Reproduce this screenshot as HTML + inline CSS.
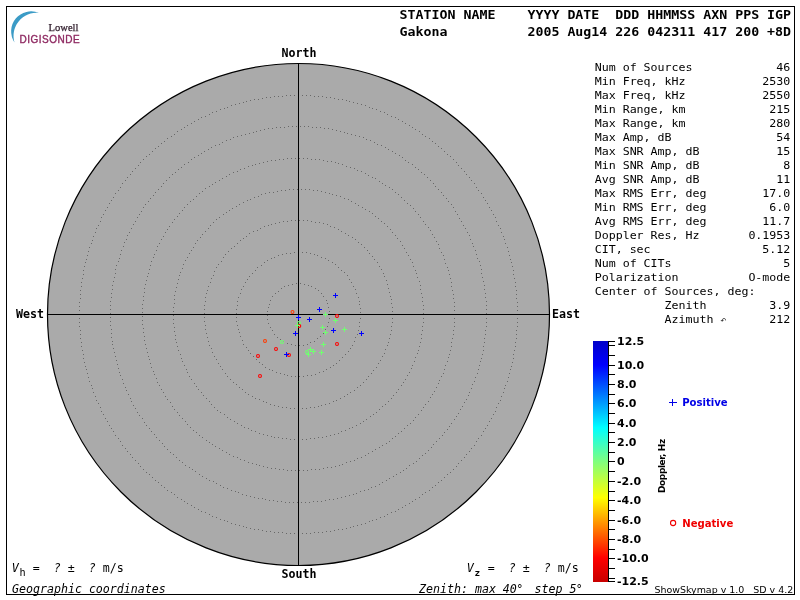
<!DOCTYPE html>
<html lang="en"><head><meta charset="utf-8"><title>Digisonde Skymap - Gakona</title>
<style>
html,body{margin:0;padding:0;background:#fff;}
body{width:800px;height:600px;overflow:hidden;}
svg{display:block;}
text{white-space:pre;}
.m{font-family:"DejaVu Sans Mono","Liberation Mono",monospace;font-size:11.627px;fill:#000;}
.mi{font-family:"DejaVu Sans Mono","Liberation Mono",monospace;font-size:11.627px;font-style:italic;fill:#000;}
.h{font-family:"DejaVu Sans Mono","Liberation Mono",monospace;font-size:13.288px;font-weight:bold;fill:#000;}
.d{font-family:"DejaVu Sans Mono","Liberation Mono",monospace;font-size:11.627px;font-weight:bold;fill:#000;}
.cb{font-family:"DejaVu Sans","Liberation Sans",sans-serif;font-size:11px;font-weight:bold;fill:#000;}
.lg{font-family:"DejaVu Sans","Liberation Sans",sans-serif;font-size:10.1px;font-weight:bold;}
.arr{font-family:"DejaVu Sans","Liberation Sans",sans-serif;font-size:7px;fill:#000;}
.ver{font-family:"DejaVu Sans","Liberation Sans",sans-serif;font-size:9.46px;fill:#000;}
.dop{font-family:"DejaVu Sans","Liberation Sans",sans-serif;font-size:9px;font-weight:bold;letter-spacing:-0.4px;fill:#000;}
.lw{font-family:"Liberation Serif",serif;font-size:10.6px;fill:#33202f;stroke:#33202f;stroke-width:0.25px;}
.dg{font-family:"Liberation Sans",sans-serif;font-size:10px;letter-spacing:0.5px;fill:#8f2a62;stroke:#8f2a62;stroke-width:0.35px;}
</style></head><body>
<svg width="800" height="600" viewBox="0 0 800 600">
<rect x="0" y="0" width="800" height="600" fill="#fff"/>
<circle cx="298.5" cy="314.5" r="251.0" fill="#aaaaaa" stroke="#000" stroke-width="1.2"/>
<path d="M329,314.5h1M329,318.5h1M328,322.5h1M327,326.5h1M325,329.5h1M323,333.5h1M320,336.5h1M317,338.5h1M314,341.5h1M310,342.5h1M307,344.5h1M303,345.5h1M299,345.5h1M295,345.5h1M291,344.5h1M287,343.5h1M283,341.5h1M280,339.5h1M277,337.5h1M274,334.5h1M272,330.5h1M270,327.5h1M268,323.5h1M267,319.5h1M267,315.5h1M267,311.5h1M268,307.5h1M269,304.5h1M270,300.5h1M272,296.5h1M275,293.5h1M278,291.5h1M281,288.5h1M284,286.5h1M288,285.5h1M292,284.5h1M296,283.5h1M300,283.5h1M304,284.5h1M308,285.5h1M311,286.5h1M315,288.5h1M318,290.5h1M321,293.5h1M323,296.5h1M326,300.5h1M327,303.5h1M328,307.5h1M329,311.5h1M360,314.5h1M360,318.5h1M359,322.5h1M359,326.5h1M358,330.5h1M357,334.5h1M355,337.5h1M354,341.5h1M352,345.5h1M350,348.5h1M348,351.5h1M345,354.5h1M342,357.5h1M339,360.5h1M336,363.5h1M333,365.5h1M330,367.5h1M326,369.5h1M323,371.5h1M319,372.5h1M315,374.5h1M311,375.5h1M307,375.5h1M303,376.5h1M299,376.5h1M295,376.5h1M291,376.5h1M287,375.5h1M284,374.5h1M280,373.5h1M276,372.5h1M272,370.5h1M269,369.5h1M265,367.5h1M262,364.5h1M259,362.5h1M256,359.5h1M253,356.5h1M250,353.5h1M248,350.5h1M246,347.5h1M243,344.5h1M242,340.5h1M240,336.5h1M239,332.5h1M238,329.5h1M237,325.5h1M236,321.5h1M236,317.5h1M236,313.5h1M236,309.5h1M237,305.5h1M237,301.5h1M238,297.5h1M240,293.5h1M241,289.5h1M243,286.5h1M245,282.5h1M247,279.5h1M249,276.5h1M252,273.5h1M255,270.5h1M257,267.5h1M261,265.5h1M264,262.5h1M267,260.5h1M271,258.5h1M274,257.5h1M278,255.5h1M282,254.5h1M286,253.5h1M290,253.5h1M294,252.5h1M298,252.5h1M302,252.5h1M306,252.5h1M310,253.5h1M314,254.5h1M317,255.5h1M321,257.5h1M325,258.5h1M328,260.5h1M332,262.5h1M335,264.5h1M338,267.5h1M341,270.5h1M344,272.5h1M347,275.5h1M349,279.5h1M351,282.5h1M353,286.5h1M355,289.5h1M356,293.5h1M358,297.5h1M359,301.5h1M359,304.5h1M360,308.5h1M360,312.5h1M392,314.5h1M392,318.5h1M392,322.5h1M391,326.5h1M391,330.5h1M390,334.5h1M389,338.5h1M388,342.5h1M387,345.5h1M385,349.5h1M384,353.5h1M382,356.5h1M380,360.5h1M378,363.5h1M376,367.5h1M373,370.5h1M371,373.5h1M368,376.5h1M366,379.5h1M363,382.5h1M360,385.5h1M357,387.5h1M354,390.5h1M350,392.5h1M347,394.5h1M344,396.5h1M340,398.5h1M336,400.5h1M333,401.5h1M329,403.5h1M325,404.5h1M321,405.5h1M318,406.5h1M314,407.5h1M310,407.5h1M306,408.5h1M302,408.5h1M298,408.5h1M294,408.5h1M290,408.5h1M286,407.5h1M282,407.5h1M278,406.5h1M274,405.5h1M270,404.5h1M266,402.5h1M263,401.5h1M259,399.5h1M255,398.5h1M252,396.5h1M248,394.5h1M245,392.5h1M242,389.5h1M239,387.5h1M236,384.5h1M233,382.5h1M230,379.5h1M227,376.5h1M225,373.5h1M222,369.5h1M220,366.5h1M218,363.5h1M216,359.5h1M214,356.5h1M212,352.5h1M211,348.5h1M209,345.5h1M208,341.5h1M207,337.5h1M206,333.5h1M205,329.5h1M205,325.5h1M204,321.5h1M204,317.5h1M204,313.5h1M204,309.5h1M204,305.5h1M205,301.5h1M205,297.5h1M206,293.5h1M207,290.5h1M208,286.5h1M210,282.5h1M211,278.5h1M213,275.5h1M214,271.5h1M216,267.5h1M218,264.5h1M221,261.5h1M223,257.5h1M225,254.5h1M228,251.5h1M231,248.5h1M234,246.5h1M237,243.5h1M240,240.5h1M243,238.5h1M246,236.5h1M249,233.5h1M253,231.5h1M257,230.5h1M260,228.5h1M264,226.5h1M268,225.5h1M271,224.5h1M275,223.5h1M279,222.5h1M283,221.5h1M287,221.5h1M291,220.5h1M295,220.5h1M299,220.5h1M303,220.5h1M307,220.5h1M311,221.5h1M315,222.5h1M319,222.5h1M323,223.5h1M327,224.5h1M330,226.5h1M334,227.5h1M338,229.5h1M341,231.5h1M345,233.5h1M348,235.5h1M352,237.5h1M355,239.5h1M358,242.5h1M361,244.5h1M364,247.5h1M367,250.5h1M369,253.5h1M372,256.5h1M374,259.5h1M377,262.5h1M379,266.5h1M381,269.5h1M383,273.5h1M384,276.5h1M386,280.5h1M387,284.5h1M388,288.5h1M389,292.5h1M390,296.5h1M391,299.5h1M391,303.5h1M392,307.5h1M392,311.5h1M423,314.5h1M423,318.5h1M423,322.5h1M422,326.5h1M422,330.5h1M421,334.5h1M421,338.5h1M420,342.5h1M419,346.5h1M418,350.5h1M417,353.5h1M415,357.5h1M414,361.5h1M412,365.5h1M411,368.5h1M409,372.5h1M407,375.5h1M405,379.5h1M403,382.5h1M401,385.5h1M398,389.5h1M396,392.5h1M393,395.5h1M391,398.5h1M388,401.5h1M385,404.5h1M382,406.5h1M379,409.5h1M376,412.5h1M373,414.5h1M370,416.5h1M366,419.5h1M363,421.5h1M360,423.5h1M356,425.5h1M352,427.5h1M349,428.5h1M345,430.5h1M341,431.5h1M338,433.5h1M334,434.5h1M330,435.5h1M326,436.5h1M322,437.5h1M318,437.5h1M314,438.5h1M310,438.5h1M306,439.5h1M302,439.5h1M298,439.5h1M294,439.5h1M290,439.5h1M286,438.5h1M282,438.5h1M278,437.5h1M274,437.5h1M271,436.5h1M267,435.5h1M263,434.5h1M259,433.5h1M255,431.5h1M251,430.5h1M248,428.5h1M244,427.5h1M241,425.5h1M237,423.5h1M234,421.5h1M230,419.5h1M227,417.5h1M224,414.5h1M220,412.5h1M217,410.5h1M214,407.5h1M211,404.5h1M209,401.5h1M206,398.5h1M203,395.5h1M201,392.5h1M198,389.5h1M196,386.5h1M194,383.5h1M191,379.5h1M189,376.5h1M187,372.5h1M186,369.5h1M184,365.5h1M182,361.5h1M181,358.5h1M180,354.5h1M178,350.5h1M177,346.5h1M176,342.5h1M175,339.5h1M175,335.5h1M174,331.5h1M174,327.5h1M173,323.5h1M173,319.5h1M173,315.5h1M173,311.5h1M173,307.5h1M174,303.5h1M174,299.5h1M174,295.5h1M175,291.5h1M176,287.5h1M177,283.5h1M178,279.5h1M179,275.5h1M180,272.5h1M182,268.5h1M183,264.5h1M185,260.5h1M187,257.5h1M189,253.5h1M191,250.5h1M193,247.5h1M195,243.5h1M197,240.5h1M200,237.5h1M202,234.5h1M205,231.5h1M208,228.5h1M210,225.5h1M213,222.5h1M216,219.5h1M219,217.5h1M223,214.5h1M226,212.5h1M229,210.5h1M232,208.5h1M236,206.5h1M239,204.5h1M243,202.5h1M247,200.5h1M250,199.5h1M254,197.5h1M258,196.5h1M261,194.5h1M265,193.5h1M269,192.5h1M273,192.5h1M277,191.5h1M281,190.5h1M285,190.5h1M289,189.5h1M293,189.5h1M297,189.5h1M301,189.5h1M305,189.5h1M309,189.5h1M313,190.5h1M317,190.5h1M321,191.5h1M325,192.5h1M329,193.5h1M332,194.5h1M336,195.5h1M340,196.5h1M344,198.5h1M348,199.5h1M351,201.5h1M355,203.5h1M358,205.5h1M362,207.5h1M365,209.5h1M369,211.5h1M372,213.5h1M375,216.5h1M378,218.5h1M381,221.5h1M384,223.5h1M387,226.5h1M390,229.5h1M392,232.5h1M395,235.5h1M397,238.5h1M400,241.5h1M402,245.5h1M404,248.5h1M406,252.5h1M408,255.5h1M410,259.5h1M412,262.5h1M413,266.5h1M415,270.5h1M416,273.5h1M417,277.5h1M419,281.5h1M420,285.5h1M420,289.5h1M421,293.5h1M422,297.5h1M422,301.5h1M423,305.5h1M423,309.5h1M423,313.5h1M454,314.5h1M454,318.5h1M454,322.5h1M454,326.5h1M453,330.5h1M453,334.5h1M452,338.5h1M451,342.5h1M451,346.5h1M450,350.5h1M449,354.5h1M448,357.5h1M447,361.5h1M445,365.5h1M444,369.5h1M443,373.5h1M441,376.5h1M439,380.5h1M438,383.5h1M436,387.5h1M434,391.5h1M432,394.5h1M430,397.5h1M428,401.5h1M425,404.5h1M423,407.5h1M421,410.5h1M418,414.5h1M415,417.5h1M413,420.5h1M410,423.5h1M407,425.5h1M404,428.5h1M401,431.5h1M398,433.5h1M395,436.5h1M392,438.5h1M389,441.5h1M386,443.5h1M382,445.5h1M379,447.5h1M375,449.5h1M372,451.5h1M368,453.5h1M365,455.5h1M361,457.5h1M357,458.5h1M354,460.5h1M350,461.5h1M346,462.5h1M342,464.5h1M339,465.5h1M335,466.5h1M331,467.5h1M327,467.5h1M323,468.5h1M319,469.5h1M315,469.5h1M311,469.5h1M307,470.5h1M303,470.5h1M299,470.5h1M295,470.5h1M291,470.5h1M287,470.5h1M283,469.5h1M279,469.5h1M275,468.5h1M271,468.5h1M267,467.5h1M263,466.5h1M259,465.5h1M256,464.5h1M252,463.5h1M248,462.5h1M244,460.5h1M240,459.5h1M237,457.5h1M233,456.5h1M229,454.5h1M226,452.5h1M222,450.5h1M219,448.5h1M215,446.5h1M212,444.5h1M209,442.5h1M206,440.5h1M202,437.5h1M199,435.5h1M196,432.5h1M193,430.5h1M190,427.5h1M187,424.5h1M185,421.5h1M182,418.5h1M179,415.5h1M177,412.5h1M174,409.5h1M172,406.5h1M170,402.5h1M167,399.5h1M165,396.5h1M163,392.5h1M161,389.5h1M159,385.5h1M157,382.5h1M156,378.5h1M154,374.5h1M153,371.5h1M151,367.5h1M150,363.5h1M149,359.5h1M148,356.5h1M147,352.5h1M146,348.5h1M145,344.5h1M144,340.5h1M144,336.5h1M143,332.5h1M143,328.5h1M142,324.5h1M142,320.5h1M142,316.5h1M142,312.5h1M142,308.5h1M142,304.5h1M143,300.5h1M143,296.5h1M144,292.5h1M144,288.5h1M145,284.5h1M146,280.5h1M147,276.5h1M148,273.5h1M149,269.5h1M150,265.5h1M151,261.5h1M153,257.5h1M154,254.5h1M156,250.5h1M157,246.5h1M159,243.5h1M161,239.5h1M163,236.5h1M165,232.5h1M167,229.5h1M169,226.5h1M172,222.5h1M174,219.5h1M177,216.5h1M179,213.5h1M182,210.5h1M184,207.5h1M187,204.5h1M190,201.5h1M193,199.5h1M196,196.5h1M199,193.5h1M202,191.5h1M205,188.5h1M209,186.5h1M212,184.5h1M215,182.5h1M219,180.5h1M222,178.5h1M226,176.5h1M229,174.5h1M233,172.5h1M237,171.5h1M240,169.5h1M244,168.5h1M248,166.5h1M252,165.5h1M255,164.5h1M259,163.5h1M263,162.5h1M267,161.5h1M271,160.5h1M275,160.5h1M279,159.5h1M283,159.5h1M287,158.5h1M291,158.5h1M295,158.5h1M299,158.5h1M303,158.5h1M307,158.5h1M311,159.5h1M315,159.5h1M319,159.5h1M323,160.5h1M327,161.5h1M331,161.5h1M335,162.5h1M338,163.5h1M342,164.5h1M346,166.5h1M350,167.5h1M354,168.5h1M357,170.5h1M361,171.5h1M365,173.5h1M368,175.5h1M372,177.5h1M375,178.5h1M379,181.5h1M382,183.5h1M385,185.5h1M389,187.5h1M392,189.5h1M395,192.5h1M398,194.5h1M401,197.5h1M404,200.5h1M407,203.5h1M410,205.5h1M413,208.5h1M415,211.5h1M418,214.5h1M420,217.5h1M423,221.5h1M425,224.5h1M428,227.5h1M430,230.5h1M432,234.5h1M434,237.5h1M436,241.5h1M438,244.5h1M439,248.5h1M441,252.5h1M443,255.5h1M444,259.5h1M445,263.5h1M447,267.5h1M448,270.5h1M449,274.5h1M450,278.5h1M451,282.5h1M451,286.5h1M452,290.5h1M453,294.5h1M453,298.5h1M454,302.5h1M454,306.5h1M454,310.5h1M486,314.5h1M486,318.5h1M486,322.5h1M486,326.5h1M485,330.5h1M485,334.5h1M484,338.5h1M484,342.5h1M483,346.5h1M483,350.5h1M482,354.5h1M481,358.5h1M480,361.5h1M479,365.5h1M478,369.5h1M477,373.5h1M475,377.5h1M474,381.5h1M472,384.5h1M471,388.5h1M469,392.5h1M468,395.5h1M466,399.5h1M464,402.5h1M462,406.5h1M460,409.5h1M458,413.5h1M456,416.5h1M454,419.5h1M451,423.5h1M449,426.5h1M447,429.5h1M444,432.5h1M442,435.5h1M439,438.5h1M436,441.5h1M433,444.5h1M431,447.5h1M428,450.5h1M425,453.5h1M422,455.5h1M419,458.5h1M416,461.5h1M413,463.5h1M409,465.5h1M406,468.5h1M403,470.5h1M400,472.5h1M396,474.5h1M393,476.5h1M389,478.5h1M386,480.5h1M382,482.5h1M379,484.5h1M375,486.5h1M371,487.5h1M368,489.5h1M364,490.5h1M360,491.5h1M356,493.5h1M353,494.5h1M349,495.5h1M345,496.5h1M341,497.5h1M337,498.5h1M333,499.5h1M329,499.5h1M325,500.5h1M321,501.5h1M317,501.5h1M313,501.5h1M309,502.5h1M305,502.5h1M301,502.5h1M297,502.5h1M293,502.5h1M289,502.5h1M285,502.5h1M281,501.5h1M277,501.5h1M273,500.5h1M269,500.5h1M265,499.5h1M262,498.5h1M258,498.5h1M254,497.5h1M250,496.5h1M246,495.5h1M242,494.5h1M238,492.5h1M235,491.5h1M231,490.5h1M227,488.5h1M223,487.5h1M220,485.5h1M216,483.5h1M213,481.5h1M209,480.5h1M206,478.5h1M202,476.5h1M199,474.5h1M195,471.5h1M192,469.5h1M189,467.5h1M185,465.5h1M182,462.5h1M179,460.5h1M176,457.5h1M173,454.5h1M170,452.5h1M167,449.5h1M164,446.5h1M162,443.5h1M159,440.5h1M156,437.5h1M154,434.5h1M151,431.5h1M149,428.5h1M146,425.5h1M144,422.5h1M142,418.5h1M139,415.5h1M137,412.5h1M135,408.5h1M133,405.5h1M131,401.5h1M130,398.5h1M128,394.5h1M126,390.5h1M125,387.5h1M123,383.5h1M122,379.5h1M120,375.5h1M119,372.5h1M118,368.5h1M117,364.5h1M116,360.5h1M115,356.5h1M114,352.5h1M113,348.5h1M112,344.5h1M112,341.5h1M111,337.5h1M111,333.5h1M111,329.5h1M110,325.5h1M110,321.5h1M110,317.5h1M110,313.5h1M110,309.5h1M110,305.5h1M110,301.5h1M111,297.5h1M111,293.5h1M112,289.5h1M112,285.5h1M113,281.5h1M114,277.5h1M115,273.5h1M115,269.5h1M116,265.5h1M118,261.5h1M119,258.5h1M120,254.5h1M121,250.5h1M123,246.5h1M124,242.5h1M126,239.5h1M127,235.5h1M129,232.5h1M131,228.5h1M133,224.5h1M135,221.5h1M137,217.5h1M139,214.5h1M141,211.5h1M143,207.5h1M145,204.5h1M148,201.5h1M150,198.5h1M153,195.5h1M155,192.5h1M158,189.5h1M161,186.5h1M163,183.5h1M166,180.5h1M169,177.5h1M172,174.5h1M175,172.5h1M178,169.5h1M181,167.5h1M184,164.5h1M188,162.5h1M191,159.5h1M194,157.5h1M198,155.5h1M201,153.5h1M204,151.5h1M208,149.5h1M211,147.5h1M215,145.5h1M219,144.5h1M222,142.5h1M226,140.5h1M230,139.5h1M233,137.5h1M237,136.5h1M241,135.5h1M245,134.5h1M249,133.5h1M253,132.5h1M256,131.5h1M260,130.5h1M264,129.5h1M268,128.5h1M272,128.5h1M276,127.5h1M280,127.5h1M284,127.5h1M288,126.5h1M292,126.5h1M296,126.5h1M300,126.5h1M304,126.5h1M308,126.5h1M312,127.5h1M316,127.5h1M320,127.5h1M324,128.5h1M328,128.5h1M332,129.5h1M336,130.5h1M340,131.5h1M344,132.5h1M347,133.5h1M351,134.5h1M355,135.5h1M359,136.5h1M363,137.5h1M366,139.5h1M370,140.5h1M374,142.5h1M377,144.5h1M381,145.5h1M385,147.5h1M388,149.5h1M392,151.5h1M395,153.5h1M399,155.5h1M402,157.5h1M405,160.5h1M408,162.5h1M412,164.5h1M415,167.5h1M418,169.5h1M421,172.5h1M424,174.5h1M427,177.5h1M430,180.5h1M433,183.5h1M435,186.5h1M438,189.5h1M441,192.5h1M443,195.5h1M446,198.5h1M448,201.5h1M451,204.5h1M453,207.5h1M455,211.5h1M457,214.5h1M459,218.5h1M461,221.5h1M463,225.5h1M465,228.5h1M467,232.5h1M469,235.5h1M470,239.5h1M472,243.5h1M473,246.5h1M475,250.5h1M476,254.5h1M477,258.5h1M479,261.5h1M480,265.5h1M481,269.5h1M481,273.5h1M482,277.5h1M483,281.5h1M484,285.5h1M484,289.5h1M485,293.5h1M485,297.5h1M486,301.5h1M486,305.5h1M486,309.5h1M486,313.5h1M517,314.5h1M517,318.5h1M517,322.5h1M517,326.5h1M516,330.5h1M516,334.5h1M516,338.5h1M515,342.5h1M515,346.5h1M514,350.5h1M513,354.5h1M513,358.5h1M512,362.5h1M511,366.5h1M510,369.5h1M509,373.5h1M508,377.5h1M507,381.5h1M505,385.5h1M504,388.5h1M503,392.5h1M501,396.5h1M500,400.5h1M498,403.5h1M496,407.5h1M495,411.5h1M493,414.5h1M491,418.5h1M489,421.5h1M487,425.5h1M485,428.5h1M483,431.5h1M481,435.5h1M478,438.5h1M476,441.5h1M474,445.5h1M471,448.5h1M469,451.5h1M466,454.5h1M464,457.5h1M461,460.5h1M458,463.5h1M456,466.5h1M453,469.5h1M450,472.5h1M447,474.5h1M444,477.5h1M441,480.5h1M438,482.5h1M435,485.5h1M432,487.5h1M429,490.5h1M425,492.5h1M422,494.5h1M419,497.5h1M415,499.5h1M412,501.5h1M409,503.5h1M405,505.5h1M402,507.5h1M398,509.5h1M395,511.5h1M391,512.5h1M387,514.5h1M384,516.5h1M380,517.5h1M376,519.5h1M372,520.5h1M369,521.5h1M365,523.5h1M361,524.5h1M357,525.5h1M353,526.5h1M350,527.5h1M346,528.5h1M342,529.5h1M338,529.5h1M334,530.5h1M330,531.5h1M326,531.5h1M322,532.5h1M318,532.5h1M314,532.5h1M310,533.5h1M306,533.5h1M302,533.5h1M298,533.5h1M294,533.5h1M290,533.5h1M286,533.5h1M282,532.5h1M278,532.5h1M274,532.5h1M270,531.5h1M266,531.5h1M262,530.5h1M258,529.5h1M254,529.5h1M250,528.5h1M246,527.5h1M243,526.5h1M239,525.5h1M235,524.5h1M231,523.5h1M227,521.5h1M224,520.5h1M220,519.5h1M216,517.5h1M212,516.5h1M209,514.5h1M205,512.5h1M201,511.5h1M198,509.5h1M194,507.5h1M191,505.5h1M187,503.5h1M184,501.5h1M181,499.5h1M177,497.5h1M174,494.5h1M171,492.5h1M167,490.5h1M164,487.5h1M161,485.5h1M158,482.5h1M155,480.5h1M152,477.5h1M149,474.5h1M146,472.5h1M143,469.5h1M140,466.5h1M138,463.5h1M135,460.5h1M132,457.5h1M130,454.5h1M127,451.5h1M125,448.5h1M122,445.5h1M120,441.5h1M118,438.5h1M115,435.5h1M113,431.5h1M111,428.5h1M109,425.5h1M107,421.5h1M105,418.5h1M103,414.5h1M101,411.5h1M100,407.5h1M98,403.5h1M96,400.5h1M95,396.5h1M93,392.5h1M92,388.5h1M91,385.5h1M89,381.5h1M88,377.5h1M87,373.5h1M86,369.5h1M85,366.5h1M84,362.5h1M83,358.5h1M83,354.5h1M82,350.5h1M81,346.5h1M81,342.5h1M80,338.5h1M80,334.5h1M80,330.5h1M79,326.5h1M79,322.5h1M79,318.5h1M79,314.5h1M79,310.5h1M79,306.5h1M79,302.5h1M80,298.5h1M80,294.5h1M80,290.5h1M81,286.5h1M81,282.5h1M82,278.5h1M83,274.5h1M83,270.5h1M84,266.5h1M85,262.5h1M86,259.5h1M87,255.5h1M88,251.5h1M89,247.5h1M91,243.5h1M92,240.5h1M93,236.5h1M95,232.5h1M96,228.5h1M98,225.5h1M100,221.5h1M101,217.5h1M103,214.5h1M105,210.5h1M107,207.5h1M109,203.5h1M111,200.5h1M113,197.5h1M115,193.5h1M118,190.5h1M120,187.5h1M122,183.5h1M125,180.5h1M127,177.5h1M130,174.5h1M132,171.5h1M135,168.5h1M138,165.5h1M140,162.5h1M143,159.5h1M146,156.5h1M149,154.5h1M152,151.5h1M155,148.5h1M158,146.5h1M161,143.5h1M164,141.5h1M167,138.5h1M171,136.5h1M174,134.5h1M177,131.5h1M181,129.5h1M184,127.5h1M187,125.5h1M191,123.5h1M194,121.5h1M198,119.5h1M201,117.5h1M205,116.5h1M209,114.5h1M212,112.5h1M216,111.5h1M220,109.5h1M224,108.5h1M227,107.5h1M231,105.5h1M235,104.5h1M239,103.5h1M243,102.5h1M246,101.5h1M250,100.5h1M254,99.5h1M258,99.5h1M262,98.5h1M266,97.5h1M270,97.5h1M274,96.5h1M278,96.5h1M282,96.5h1M286,95.5h1M290,95.5h1M294,95.5h1M298,95.5h1M302,95.5h1M306,95.5h1M310,95.5h1M314,96.5h1M318,96.5h1M322,96.5h1M326,97.5h1M330,97.5h1M334,98.5h1M338,99.5h1M342,99.5h1M346,100.5h1M349,101.5h1M353,102.5h1M357,103.5h1M361,104.5h1M365,105.5h1M369,107.5h1M372,108.5h1M376,109.5h1M380,111.5h1M384,112.5h1M387,114.5h1M391,116.5h1M395,117.5h1M398,119.5h1M402,121.5h1M405,123.5h1M409,125.5h1M412,127.5h1M415,129.5h1M419,131.5h1M422,134.5h1M425,136.5h1M429,138.5h1M432,141.5h1M435,143.5h1M438,146.5h1M441,148.5h1M444,151.5h1M447,154.5h1M450,156.5h1M453,159.5h1M456,162.5h1M458,165.5h1M461,168.5h1M464,171.5h1M466,174.5h1M469,177.5h1M471,180.5h1M474,183.5h1M476,187.5h1M478,190.5h1M481,193.5h1M483,197.5h1M485,200.5h1M487,203.5h1M489,207.5h1M491,210.5h1M493,214.5h1M495,217.5h1M496,221.5h1M498,225.5h1M500,228.5h1M501,232.5h1M503,236.5h1M504,239.5h1M505,243.5h1M507,247.5h1M508,251.5h1M509,255.5h1M510,259.5h1M511,262.5h1M512,266.5h1M513,270.5h1M513,274.5h1M514,278.5h1M515,282.5h1M515,286.5h1M516,290.5h1M516,294.5h1M516,298.5h1M517,302.5h1M517,306.5h1M517,310.5h1" stroke="#686868" stroke-width="1" fill="none" shape-rendering="crispEdges"/>
<rect x="298" y="63" width="1" height="503" fill="#000"/>
<rect x="47" y="314" width="503" height="1" fill="#000"/>
<rect x="6.5" y="6.5" width="788" height="588" fill="none" stroke="#000" stroke-width="1"/>
<path d="M39,13 A20,20 0 0 0 14.5,42.5 A23,23 0 0 1 39,13 Z" fill="#3b9bc6"/>
<text class="lw" x="48.5" y="30.5">Lowell</text>
<text class="dg" x="19.5" y="42.5">DIGISONDE</text>
<text class="h" transform="translate(399.6,19) scale(1,0.91)">STATION NAME    YYYY DATE  DDD HHMMSS AXN PPS IGP</text>
<text class="h" transform="translate(399.6,36) scale(1,0.91)">Gakona          2005 Aug14 226 042311 417 200 +8D</text>
<text class="m" transform="translate(594.7,71) scale(1,0.87)">Num of Sources            46</text>
<text class="m" transform="translate(594.7,85) scale(1,0.87)">Min Freq, kHz           2530</text>
<text class="m" transform="translate(594.7,99) scale(1,0.87)">Max Freq, kHz           2550</text>
<text class="m" transform="translate(594.7,113) scale(1,0.87)">Min Range, km            215</text>
<text class="m" transform="translate(594.7,127) scale(1,0.87)">Max Range, km            280</text>
<text class="m" transform="translate(594.7,141) scale(1,0.87)">Max Amp, dB               54</text>
<text class="m" transform="translate(594.7,155) scale(1,0.87)">Max SNR Amp, dB           15</text>
<text class="m" transform="translate(594.7,169) scale(1,0.87)">Min SNR Amp, dB            8</text>
<text class="m" transform="translate(594.7,183) scale(1,0.87)">Avg SNR Amp, dB           11</text>
<text class="m" transform="translate(594.7,197) scale(1,0.87)">Max RMS Err, deg        17.0</text>
<text class="m" transform="translate(594.7,211) scale(1,0.87)">Min RMS Err, deg         6.0</text>
<text class="m" transform="translate(594.7,225) scale(1,0.87)">Avg RMS Err, deg        11.7</text>
<text class="m" transform="translate(594.7,239) scale(1,0.87)">Doppler Res, Hz       0.1953</text>
<text class="m" transform="translate(594.7,253) scale(1,0.87)">CIT, sec                5.12</text>
<text class="m" transform="translate(594.7,267) scale(1,0.87)">Num of CITs                5</text>
<text class="m" transform="translate(594.7,281) scale(1,0.87)">Polarization          O-mode</text>
<text class="m" transform="translate(594.7,295) scale(1,0.87)">Center of Sources, deg:     </text>
<text class="m" transform="translate(594.7,309) scale(1,0.87)">          Zenith         3.9</text>
<text class="m" transform="translate(594.7,323) scale(1,0.87)">          Azimuth        212</text>
<text class="arr" x="720.5" y="322.5">↶</text>
<text class="d" x="281.6" y="57">North</text>
<text class="d" x="281.5" y="578">South</text>
<text class="d" x="16" y="318">West</text>
<text class="d" x="552" y="318">East</text>
<text class="m" y="572.2"><tspan x="11.8" font-style="italic">V</tspan><tspan x="19.400000000000002" dy="4" font-size="10.2px">h</tspan><tspan x="32.8" dy="-4">=  </tspan><tspan font-style="italic">?</tspan> ±  <tspan font-style="italic">?</tspan> m/s</text>
<text class="m" y="572.2"><tspan x="466.8" font-style="italic">V</tspan><tspan x="474.40000000000003" dy="4" font-size="9.4px" font-weight="bold">z</tspan><tspan x="487.8" dy="-4">=  </tspan><tspan font-style="italic">?</tspan> ±  <tspan font-style="italic">?</tspan> m/s</text>
<text class="mi" x="12" y="592.7">Geographic coordinates</text>
<text class="mi" y="592.9"><tspan x="419">Zenith: max 40</tspan><tspan x="516.2">°</tspan><tspan x="520.5">  step 5</tspan><tspan x="575.7">°</tspan></text>
<text class="ver" x="654.4" y="592.8">ShowSkymap v 1.0   SD v 4.2</text>
<defs><linearGradient id="jet" x1="0" y1="0" x2="0" y2="1">
<stop offset="0" stop-color="#0000c8"/>
<stop offset="0.1" stop-color="#0000ff"/>
<stop offset="0.36" stop-color="#00ffff"/>
<stop offset="0.5" stop-color="#7fff7f"/>
<stop offset="0.65" stop-color="#ffff00"/>
<stop offset="0.9" stop-color="#ff0000"/>
<stop offset="1" stop-color="#c80000"/>
</linearGradient></defs>
<rect x="593" y="341" width="15" height="241" fill="url(#jet)"/>
<rect x="608" y="341" width="1" height="241" fill="#000"/>
<rect x="609" y="341" width="6" height="1" fill="#000"/>
<rect x="609" y="345" width="6" height="1" fill="#000"/>
<rect x="609" y="355" width="6" height="1" fill="#000"/>
<rect x="609" y="365" width="6" height="1" fill="#000"/>
<rect x="609" y="374" width="6" height="1" fill="#000"/>
<rect x="609" y="384" width="6" height="1" fill="#000"/>
<rect x="609" y="394" width="6" height="1" fill="#000"/>
<rect x="609" y="403" width="6" height="1" fill="#000"/>
<rect x="609" y="413" width="6" height="1" fill="#000"/>
<rect x="609" y="423" width="6" height="1" fill="#000"/>
<rect x="609" y="432" width="6" height="1" fill="#000"/>
<rect x="609" y="442" width="6" height="1" fill="#000"/>
<rect x="609" y="452" width="6" height="1" fill="#000"/>
<rect x="609" y="461" width="6" height="1" fill="#000"/>
<rect x="609" y="471" width="6" height="1" fill="#000"/>
<rect x="609" y="481" width="6" height="1" fill="#000"/>
<rect x="609" y="491" width="6" height="1" fill="#000"/>
<rect x="609" y="500" width="6" height="1" fill="#000"/>
<rect x="609" y="510" width="6" height="1" fill="#000"/>
<rect x="609" y="520" width="6" height="1" fill="#000"/>
<rect x="609" y="529" width="6" height="1" fill="#000"/>
<rect x="609" y="539" width="6" height="1" fill="#000"/>
<rect x="609" y="549" width="6" height="1" fill="#000"/>
<rect x="609" y="558" width="6" height="1" fill="#000"/>
<rect x="609" y="568" width="6" height="1" fill="#000"/>
<rect x="609" y="578" width="6" height="1" fill="#000"/>
<rect x="609" y="581" width="6" height="1" fill="#000"/>
<text class="cb" x="617" y="345">12.5</text>
<text class="cb" x="617" y="369">10.0</text>
<text class="cb" x="617" y="388">8.0</text>
<text class="cb" x="617" y="407">6.0</text>
<text class="cb" x="617" y="427">4.0</text>
<text class="cb" x="617" y="446">2.0</text>
<text class="cb" x="617" y="465">0</text>
<text class="cb" x="617" y="485">-2.0</text>
<text class="cb" x="617" y="504">-4.0</text>
<text class="cb" x="617" y="524">-6.0</text>
<text class="cb" x="617" y="543">-8.0</text>
<text class="cb" x="617" y="562">-10.0</text>
<text class="cb" x="617" y="585">-12.5</text>
<text class="dop" transform="translate(664.7,493) rotate(-90)">Doppler, Hz</text>
<path d="M669,402.5h8M672.5,399v7" stroke="#0000e6" stroke-width="1" fill="none"/>
<text class="lg" x="682.2" y="406.4" fill="#0000e6">Positive</text>
<circle cx="673.1" cy="523" r="2.6" fill="none" stroke="#f00000" stroke-width="1.1"/>
<text class="lg" x="682.2" y="526.5" fill="#f00000">Negative</text>
<circle cx="292.5" cy="312" r="1.45" fill="none" stroke="#ff3a00" stroke-width="1.1"/>
<circle cx="337" cy="316" r="1.45" fill="none" stroke="#ff0000" stroke-width="1.1"/>
<circle cx="299" cy="323" r="1.45" fill="none" stroke="#70ff70" stroke-width="1.1"/>
<circle cx="299.3" cy="326" r="1.45" fill="none" stroke="#ff0000" stroke-width="1.1"/>
<circle cx="265" cy="341" r="1.45" fill="none" stroke="#ff3a00" stroke-width="1.1"/>
<circle cx="282" cy="342" r="1.45" fill="none" stroke="#70ff70" stroke-width="1.1"/>
<circle cx="276" cy="349" r="1.45" fill="none" stroke="#ff0000" stroke-width="1.1"/>
<circle cx="258" cy="356" r="1.45" fill="none" stroke="#ff0000" stroke-width="1.1"/>
<circle cx="289" cy="355" r="1.45" fill="none" stroke="#ff0000" stroke-width="1.1"/>
<circle cx="260" cy="376" r="1.45" fill="none" stroke="#ff0000" stroke-width="1.1"/>
<circle cx="307" cy="352" r="1.45" fill="none" stroke="#70ff70" stroke-width="1.1"/>
<circle cx="337" cy="344" r="1.45" fill="none" stroke="#ff0000" stroke-width="1.1"/>
<path d="M333,295.5h5M335.5,293v5" stroke="#0000ff" stroke-width="1" fill="none"/>
<path d="M317,309.5h5M319.5,307v5" stroke="#0000ff" stroke-width="1" fill="none"/>
<path d="M296,317.5h5M298.5,315v5" stroke="#0000ff" stroke-width="1" fill="none"/>
<path d="M307,319.5h5M309.5,317v5" stroke="#0000ff" stroke-width="1" fill="none"/>
<path d="M331,330.5h5M333.5,328v5" stroke="#0000ff" stroke-width="1" fill="none"/>
<path d="M293,333.5h5M295.5,331v5" stroke="#0000ff" stroke-width="1" fill="none"/>
<path d="M359,333.5h5M361.5,331v5" stroke="#0000ff" stroke-width="1" fill="none"/>
<path d="M284,354.5h5M286.5,352v5" stroke="#0000ff" stroke-width="1" fill="none"/>
<path d="M323,314.5h5M325.5,312v5" stroke="#70ff70" stroke-width="1" fill="none"/>
<path d="M333,320.5h5M335.5,318v5" stroke="#70ff70" stroke-width="1" fill="none"/>
<path d="M320,327.5h5M322.5,325v5" stroke="#70ff70" stroke-width="1" fill="none"/>
<path d="M323,332.5h5M325.5,330v5" stroke="#70ff70" stroke-width="1" fill="none"/>
<path d="M342,329.5h5M344.5,327v5" stroke="#70ff70" stroke-width="1" fill="none"/>
<path d="M295,325.5h5M297.5,323v5" stroke="#70ff70" stroke-width="1" fill="none"/>
<path d="M321,344.5h5M323.5,342v5" stroke="#70ff70" stroke-width="1" fill="none"/>
<path d="M319,352.5h5M321.5,350v5" stroke="#70ff70" stroke-width="1" fill="none"/>
<path d="M308,349.5h5M310.5,347v5" stroke="#70ff70" stroke-width="1" fill="none"/>
<path d="M311,351.5h5M313.5,349v5" stroke="#70ff70" stroke-width="1" fill="none"/>
<path d="M306,354.5h5M308.5,352v5" stroke="#70ff70" stroke-width="1" fill="none"/>
</svg></body></html>
